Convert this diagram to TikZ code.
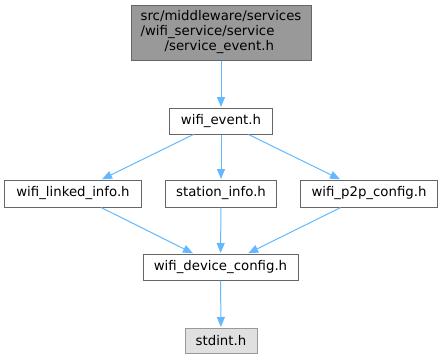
\documentclass[tikz,border=0pt]{standalone}
\usepackage{fontspec}
\setmainfont{DejaVu Sans}
\usetikzlibrary{arrows.meta}
\definecolor{edgec}{HTML}{63B8FF}
\definecolor{bordc}{HTML}{666666}
\definecolor{topfill}{HTML}{999999}
\definecolor{sysfill}{HTML}{E0E0E0}
\definecolor{sysbord}{HTML}{999999}
\tikzset{
  filebox/.style={draw=bordc, fill=white, line width=1pt, inner sep=0pt, align=center,
    font=\fontsize{13.3}{15}\selectfont, minimum height=26pt},
  rootbox/.style={filebox, fill=topfill, minimum width=180pt, minimum height=55pt, align=left},
  sysbox/.style={filebox, fill=sysfill, draw=sysbord},
  dep/.style={draw=edgec, line width=1pt, -{Triangle[length=10pt,width=8pt]}, shorten >=0.5pt}
}
\begin{document}
\begin{tikzpicture}[x=1pt,y=-1pt]
\useasboundingbox (0,0) rectangle (443,359);
\node[rootbox] (root) at (221,32.5) {src/middleware/services\\/wifi\_service/service\\\hspace*{24pt}/service\_event.h};
\node[filebox, minimum width=103pt] (ev) at (221,121) {wifi\_event.h};
\node[filebox, minimum width=137pt, minimum height=27pt] (li) at (73,193.5) {wifi\_linked\_info.h};
\node[filebox, minimum width=111pt, minimum height=27pt] (st) at (221,193.5) {station\_info.h};
\node[filebox, minimum width=137pt, minimum height=27pt] (p2p) at (369,193.5) {wifi\_p2p\_config.h};
\node[filebox, minimum width=155pt] (dev) at (220.5,267) {wifi\_device\_config.h};
\node[sysbox, minimum width=72pt, minimum height=25pt] (std) at (221,340.5) {stdint.h};
\draw[dep] (root) -- (ev);
\draw[dep] (ev) -- (li);
\draw[dep] (ev) -- (st);
\draw[dep] (ev) -- (p2p);
\draw[dep] (li) -- (dev);
\draw[dep] (st) -- (dev);
\draw[dep] (p2p) -- (dev);
\draw[dep] (dev) -- (std);
\end{tikzpicture}
\end{document}
